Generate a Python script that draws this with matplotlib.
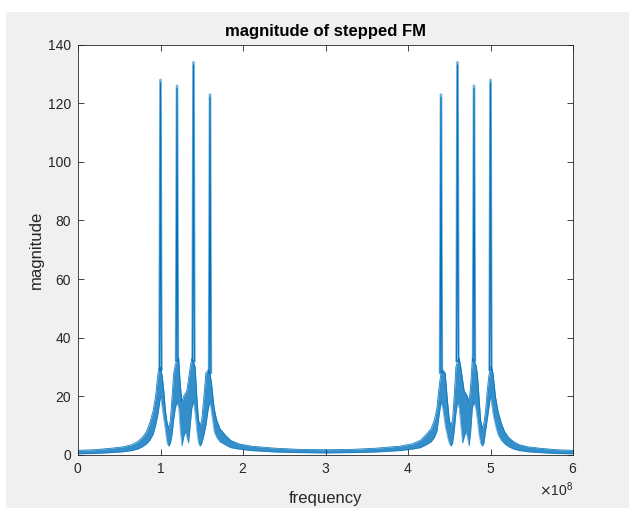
import numpy as np
import matplotlib
matplotlib.use("Agg")
import matplotlib.pyplot as plt
from matplotlib.patches import Rectangle

# values, frequency in units of 1e8 Hz
# left cluster of the spectrum: sidelobe band (lower / upper edge)
band_left_f = [0.00, 0.20, 0.40, 0.55, 0.65, 0.72, 0.78, 0.83, 0.87, 0.91, 0.94, 0.97, 0.99,
               1.00, 1.02, 1.04, 1.06, 1.08, 1.10, 1.12, 1.14, 1.16, 1.18, 1.20, 1.22, 1.24,
               1.26, 1.28, 1.30, 1.32, 1.34, 1.36, 1.38, 1.40, 1.42, 1.44, 1.46, 1.48, 1.50,
               1.52, 1.55, 1.58, 1.60, 1.62, 1.65, 1.68, 1.72, 1.78, 1.85, 1.95, 2.10, 2.40,
               2.70, 3.00]
band_left_lo = [0.4, 0.5, 0.8, 1.1, 1.5, 2.0, 2.8, 3.8, 5.0, 7.0, 10.0, 14.0, 18.0,
                20.0, 16.0, 12.0, 8.0, 4.0, 3.0, 4.0, 7.0, 12.0, 16.0, 18.0, 16.0, 8.0,
                3.0, 6.0, 8.0, 6.0, 4.0, 10.0, 16.0, 18.0, 14.0, 8.0, 4.0, 3.0, 4.0,
                6.0, 10.0, 16.0, 18.0, 14.0, 8.0, 6.0, 4.5, 3.5, 2.5, 2.0, 1.5, 1.0,
                0.8, 0.7]
band_left_hi = [1.6, 1.8, 2.3, 2.8, 3.5, 4.5, 6.0, 8.0, 11.0, 15.0, 20.0, 28.0, 30.0,
                30.0, 27.0, 22.0, 15.0, 11.0, 9.0, 12.0, 20.0, 28.0, 31.0, 32.0, 33.0, 24.0,
                18.0, 20.0, 21.0, 22.0, 26.0, 30.0, 33.0, 32.0, 30.0, 20.0, 12.0, 10.0, 12.0,
                18.0, 28.0, 29.0, 28.0, 24.0, 16.0, 12.0, 9.0, 7.0, 5.0, 3.8, 3.0, 2.3,
                1.9, 1.8]

# right cluster (mirror image in the picture)
band_right_f = [3.00, 3.30, 3.60, 3.90, 4.05, 4.15, 4.22, 4.28, 4.32, 4.35, 4.38, 4.40,
                4.42, 4.45, 4.48, 4.50, 4.52, 4.54, 4.56, 4.58, 4.60, 4.62, 4.64, 4.66,
                4.68, 4.70, 4.72, 4.74, 4.76, 4.78, 4.80, 4.82, 4.84, 4.86, 4.88, 4.90,
                4.92, 4.94, 4.96, 4.98, 5.00, 5.01, 5.03, 5.06, 5.09, 5.13, 5.17, 5.22,
                5.28, 5.35, 5.45, 5.60, 5.80, 6.00]
band_right_lo = [0.7, 0.8, 1.0, 1.5, 2.0, 2.5, 3.5, 4.5, 6.0, 8.0, 14.0, 18.0,
                 16.0, 10.0, 6.0, 4.0, 3.0, 4.0, 8.0, 14.0, 18.0, 16.0, 10.0, 4.0,
                 6.0, 8.0, 6.0, 3.0, 8.0, 16.0, 18.0, 16.0, 12.0, 7.0, 4.0, 3.0,
                 4.0, 8.0, 12.0, 16.0, 20.0, 18.0, 14.0, 10.0, 7.0, 5.0, 3.8, 2.8,
                 2.0, 1.5, 1.1, 0.8, 0.5, 0.4]
band_right_hi = [1.8, 1.9, 2.3, 3.0, 3.8, 5.0, 7.0, 9.0, 12.0, 16.0, 24.0, 28.0,
                 29.0, 28.0, 18.0, 12.0, 10.0, 12.0, 20.0, 30.0, 32.0, 33.0, 30.0, 26.0,
                 22.0, 21.0, 20.0, 18.0, 24.0, 33.0, 32.0, 31.0, 28.0, 20.0, 12.0, 9.0,
                 11.0, 15.0, 22.0, 27.0, 30.0, 30.0, 28.0, 20.0, 15.0, 11.0, 8.0, 6.0,
                 4.5, 3.5, 2.8, 2.3, 1.8, 1.6]

# main spikes
peak_f = [1.0, 1.2, 1.4, 1.6, 4.4, 4.6, 4.8, 5.0]
peak_mag = [128, 126, 134, 123, 123, 134, 126, 128]
peak_base = [29, 32, 32, 28, 28, 32, 32, 29]

blue = "#0072BD"
dark = "#262626"

plt.rcParams["font.family"] = ["Liberation Sans", "DejaVu Sans"]

fig = plt.figure(figsize=(6.29, 5.08), dpi=100, facecolor="white")
fig.patches.append(Rectangle((6 / 629, 0), 1, (508 - 12) / 508, transform=fig.transFigure,
                             facecolor="#f0f0f0", edgecolor="none", zorder=-10))
ax = fig.add_axes([78 / 629, (508 - 455) / 508, (573 - 78) / 629, (455 - 44.5) / 508])

scale = 1e8
for f, lo, hi in [(band_left_f, band_left_lo, band_left_hi),
                  (band_right_f, band_right_lo, band_right_hi)]:
    fx = np.array(f) * scale
    ax.fill_between(fx, lo, hi, color=blue, alpha=0.8, linewidth=0)
    ax.plot(fx, hi, color=blue, lw=0.6, alpha=0.9)
    ax.plot(fx, lo, color=blue, lw=0.5, alpha=0.6)

# spikes: two light strands with a darker core, like the antialiased original
for f, m, b in zip(peak_f, peak_mag, peak_base):
    xs = np.array([f - 0.016, f - 0.005, f + 0.005, f + 0.016]) * scale
    ax.plot(xs, [b, m, m, b], color=blue, lw=1.3, alpha=0.55)
    ax.plot(np.array([f - 0.01, f, f + 0.01]) * scale, [b, m - 1, b], color=blue, lw=0.8)

ax.set_xlim(0, 6e8)
ax.set_ylim(0, 140)
ax.set_xticks(np.arange(0, 7) * 1e8)
ax.set_yticks(np.arange(0, 141, 20))
ax.ticklabel_format(axis="x", style="sci", scilimits=(8, 8), useMathText=True)
ax.xaxis.get_offset_text().set_fontsize(10)
ax.xaxis.get_offset_text().set_color(dark)

ax.tick_params(direction="in", top=True, right=True, length=4, width=0.6,
               colors=dark, labelsize=10, pad=5)
for s in ax.spines.values():
    s.set_color(dark)
    s.set_linewidth(0.6)

ax.set_title("magnitude of stepped FM", fontsize=12, fontweight="bold", color="black", pad=6)
ax.set_xlabel("frequency", fontsize=12, color=dark, labelpad=11)
ax.set_ylabel("magnitude", fontsize=12, color=dark, labelpad=3)

fig.savefig("out.png", dpi=100, facecolor=fig.get_facecolor())
